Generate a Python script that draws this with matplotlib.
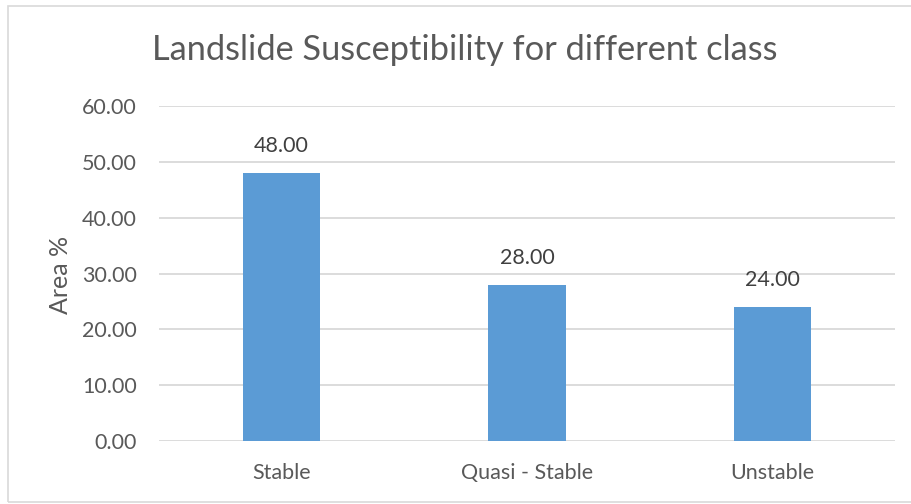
import matplotlib.pyplot as plt
from matplotlib.patches import Rectangle

# dados do gráfico
classes = ["Stable", "Quasi - Stable", "Unstable"]
area_pct = [48.00, 28.00, 24.00]
yticks = [0, 10, 20, 30, 40, 50, 60]

texto = "#595959"
grade = "#D9D9D9"
barra = "#5B9BD5"

plt.rcParams["font.family"] = ["Lato", "DejaVu Sans"]

fig = plt.figure(figsize=(9.12, 5.04), dpi=100)
ax = fig.add_axes([159 / 912, 1 - 441 / 504, 736 / 912, 335 / 504])

# moldura cinza clara em volta do gráfico
fig.patches.append(Rectangle((8 / 912, 1 - 502 / 504), 1.2, 496 / 504,
                             transform=fig.transFigure, fill=False,
                             edgecolor=grade, linewidth=1.2))

x = range(len(classes))
ax.bar(x, area_pct, width=0.315, color=barra, zorder=2)

for i, v in zip(x, area_pct):
    ax.annotate(f"{v:.2f}", (i, v), xytext=(0, 12), textcoords="offset points",
                ha="center", va="bottom", fontsize=15.5, color="#404040")

ax.set_xlim(-0.5, 2.5)
ax.set_ylim(0, 60)
ax.set_yticks(yticks)
ax.set_yticklabels([f"{t:.2f}" for t in yticks])
ax.set_xticks(list(x))
ax.set_xticklabels(classes)
ax.tick_params(axis="both", length=0, labelsize=15.5, labelcolor=texto)
ax.tick_params(axis="y", pad=16)
ax.tick_params(axis="x", pad=16)

ax.grid(axis="y", color=grade, linewidth=1.3, zorder=0)
for s in ax.spines.values():
    s.set_visible(False)

ax.set_ylabel("Area %", fontsize=18, color=texto)
ax.yaxis.set_label_coords(-87 / 736, 166 / 335)
fig.text(465 / 912, 1 - 50 / 504, "Landslide Susceptibility for different class",
         ha="center", va="center", fontsize=24.75, color=texto)

fig.savefig("out.png")
